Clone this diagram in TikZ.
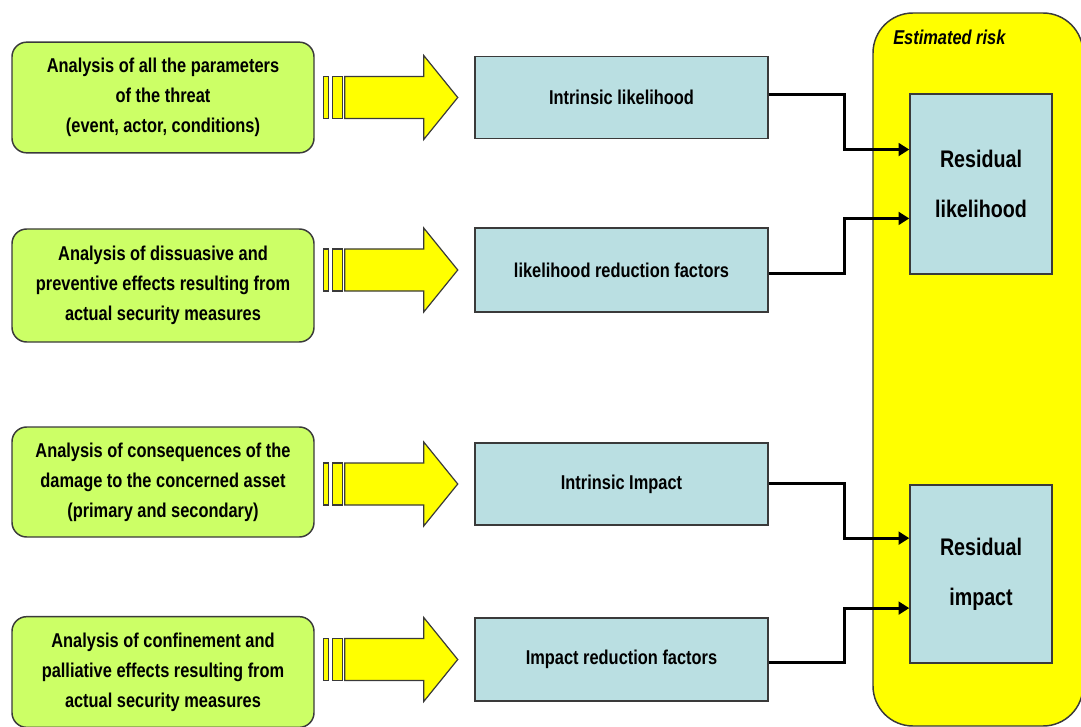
\documentclass[tikz,border=0pt]{standalone}
\usepackage{fontspec}
\setmainfont{Liberation Sans}[FakeStretch=0.82]
\usetikzlibrary{calc,arrows.meta}

\definecolor{limefill}{HTML}{CCFF66}
\definecolor{tealfill}{HTML}{BADFE2}
\definecolor{edgegray}{HTML}{3A3A3A}
\definecolor{riskyellow}{HTML}{FFFF00}

\tikzset{
  basefont/.style={font=\bfseries\fontsize{15}{22.5}\selectfont},
  srcbox/.style={basefont, draw=edgegray, line width=1.1pt, fill=limefill,
    rounded corners=11pt, minimum width=226.5pt, minimum height=83pt,
    align=center, inner sep=0pt},
  factorbox/.style={basefont, draw=edgegray, line width=1.1pt, fill=tealfill,
    minimum width=219.75pt, minimum height=61.5pt, align=center, inner sep=0pt},
  resultbox/.style={font=\bfseries\fontsize{18}{37.5}\selectfont,
    draw=edgegray, line width=1.1pt, fill=tealfill,
    minimum width=106.5pt, minimum height=135pt, align=center, inner sep=0pt},
  riskpanel/.style={draw=edgegray, line width=1.1pt, fill=riskyellow,
    rounded corners=30pt, minimum width=157.5pt, minimum height=534.75pt, inner sep=0pt},
  link/.style={draw=black, line width=2.25pt, -{Triangle[length=8pt,width=9.5pt]}},
  flowpart/.style={draw=edgegray, line width=0.9pt, fill=riskyellow, line join=miter},
  pics/stripedarrow/.style={code={
    \draw[flowpart] (0,-21) rectangle (5,21);
    \draw[flowpart] (9,-21) rectangle (19,21);
    \draw[flowpart] (21,-21) -- (100,-21) -- (100,-42) -- (134,0)
      -- (100,42) -- (100,21) -- (21,21) -- cycle;
  }}
}

\begin{document}
\begin{tikzpicture}[x=0.75pt, y=-0.75pt]
  \useasboundingbox (0,0) rectangle (1081,727);

  % right-hand panel holding the two results
  \node[riskpanel] (risk) at (978,369.5) {};
  \node[anchor=west, inner sep=0pt, font=\bfseries\itshape\fontsize{15}{18}\selectfont]
    (risklbl) at (893,37) {Estimated risk};

  % analysis inputs
  \node[srcbox] (g1) at (163,97.5) {Analysis of all the parameters\\of the threat\\(event, actor, conditions)};
  \node[srcbox, minimum height=84.75pt] (g2) at (163,285.5) {Analysis of dissuasive and\\preventive effects resulting from\\actual security measures};
  \node[srcbox, minimum height=82.5pt] (g3) at (163,482) {Analysis of consequences of the\\damage to the concerned asset\\(primary and secondary)};
  \node[srcbox] (g4) at (163,672) {Analysis of confinement and\\palliative effects resulting from\\actual security measures};

  % factors
  \node[factorbox] (b1) at (621.5,97.5) {Intrinsic likelihood};
  \node[factorbox, minimum height=63pt] (b2) at (621.5,270) {likelihood reduction factors};
  \node[factorbox] (b3) at (621.5,484) {Intrinsic Impact};
  \node[factorbox, minimum height=62.25pt] (b4) at (621.5,659.5) {Impact reduction factors};

  % results
  \node[resultbox] (rl) at (981,184) {Residual\\likelihood};
  \node[resultbox, minimum height=133.5pt] (ri) at (981,574) {Residual\\impact};

  % broad arrows from each analysis to its factor
  \pic at ($(g1.east |- b1)+(9,0)$) {stripedarrow};
  \pic at ($(g2.east |- b2)+(9,0)$) {stripedarrow};
  \pic at ($(g3.east |- b3)+(9,0)$) {stripedarrow};
  \pic at ($(g4.east |- b4)+(9,0)$) {stripedarrow};

  % entry points on the result boxes
  \coordinate (rl1) at ($(rl.north west)!0.31!(rl.south west)$);
  \coordinate (rl2) at ($(rl.north west)!0.69!(rl.south west)$);
  \coordinate (ri1) at ($(ri.north west)!0.30!(ri.south west)$);
  \coordinate (ri2) at ($(ri.north west)!0.69!(ri.south west)$);

  % elbow connectors
  \draw[link] ($(b1.east)+(0,-3)$) -- ++(76,0) |- (rl1);
  \draw[link] ($(b2.east)+(0,3.5)$) -- ++(76,0) |- (rl2);
  \draw[link] ($(b3.east)+(0,-0.5)$) -- ++(76,0) |- (ri1);
  \draw[link] ($(b4.east)+(0,3)$) -- ++(76,0) |- (ri2);
\end{tikzpicture}
\end{document}
